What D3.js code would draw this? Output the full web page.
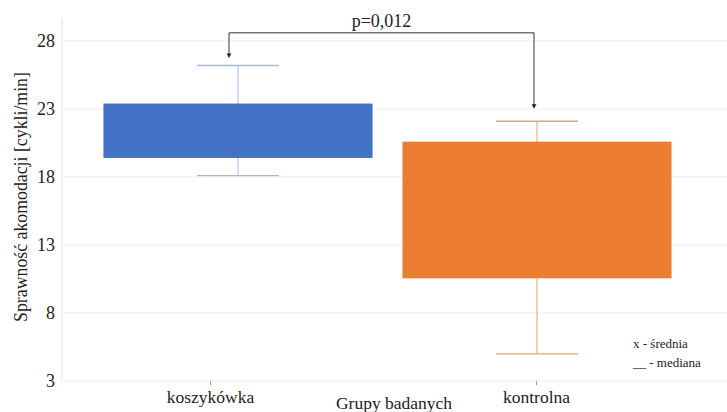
<!DOCTYPE html>
<html lang="pl">
<head>
<meta charset="utf-8">
<title>boxplot</title>
<script src="https://cdn.jsdelivr.net/npm/d3@7"></script>
<style>
  body { margin: 0; background: #fff; }
  svg text { font-family: "Liberation Serif", "Times New Roman", Times, "DejaVu Serif", serif !important; }
</style>
</head>
<body>
<script>
// data
var groups = ["koszykówka", "kontrolna"];
var whiskerMax = [26.2, 22.1];
var q3 = [23.4, 20.6];
var q1 = [19.4, 10.55];
var whiskerMin = [18.1, 5.0];
var yTicks = [3, 8, 13, 18, 23, 28];
var pLabel = "p=0,012";

var boxColors = ["#4472c4", "#ed7d31"];
var whiskerColors = ["#a9b6e0", "#f0a060"];

var w = 727, h = 412;

var svg = d3.select("body").append("svg")
  .attr("width", w).attr("height", h);

var yScale = d3.scaleLinear().domain([3, 28]).range([381, 41]);

var xScale = d3.scaleBand().domain(groups)
  .range([88.5, 686.5]).paddingInner(0.1).paddingOuter(0.05);

// category axis labels sit a little apart from the boxes
var xLab = d3.scalePoint().domain(groups).range([210, 536]);

// gridlines
svg.append("g").selectAll("line")
  .data(yTicks).enter().append("line")
  .attr("x1", 62).attr("x2", w)
  .attr("y1", function(d) { return yScale(d); })
  .attr("y2", function(d) { return yScale(d); })
  .attr("stroke", "#ececec").attr("stroke-width", 1);

svg.append("line")
  .attr("x1", 62).attr("x2", 62).attr("y1", 18).attr("y2", 381)
  .attr("stroke", "#e6e6e6");

// y axis
var yAxis = d3.axisLeft(yScale).tickValues(yTicks).tickSize(0).tickPadding(7);
var gy = svg.append("g").attr("transform", "translate(62,0)").call(yAxis);
gy.select(".domain").remove();
gy.selectAll("text").style("font-size", "18px").attr("fill", "#222");

// x axis
var xAxis = d3.axisBottom(xLab).tickSize(4).tickPadding(6);
var gx = svg.append("g").attr("transform", "translate(0,381)").call(xAxis);
gx.select(".domain").remove();
gx.selectAll("line").attr("stroke", "#999");
gx.selectAll("text").style("font-size", "17.5px").attr("fill", "#222");

// boxes
var boxes = svg.append("g").selectAll("g")
  .data(groups).enter().append("g");

boxes.append("line")
  .attr("x1", function(d) { return xScale(d) + xScale.bandwidth() / 2; })
  .attr("x2", function(d) { return xScale(d) + xScale.bandwidth() / 2; })
  .attr("y1", function(d, i) { return yScale(whiskerMax[i]); })
  .attr("y2", function(d, i) { return yScale(whiskerMin[i]); })
  .attr("stroke", function(d, i) { return whiskerColors[i]; })
  .attr("stroke-width", 1);

[whiskerMax, whiskerMin].forEach(function(arr) {
  boxes.append("line")
    .attr("x1", function(d) { return xScale(d) + xScale.bandwidth() / 2 - 41; })
    .attr("x2", function(d) { return xScale(d) + xScale.bandwidth() / 2 + 41; })
    .attr("y1", function(d, i) { return yScale(arr[i]); })
    .attr("y2", function(d, i) { return yScale(arr[i]); })
    .attr("stroke", function(d, i) { return whiskerColors[i]; })
    .attr("stroke-width", 1.3);
});

boxes.append("rect")
  .attr("x", function(d) { return xScale(d); })
  .attr("width", xScale.bandwidth())
  .attr("y", function(d, i) { return yScale(q3[i]); })
  .attr("height", function(d, i) { return yScale(q1[i]) - yScale(q3[i]); })
  .attr("fill", function(d, i) { return boxColors[i]; });

// significance bracket
var bx1 = xScale(groups[0]) + xScale.bandwidth() / 2 - 9;
var bx2 = xScale(groups[1]) + xScale.bandwidth() / 2 - 3;
var by = yScale(28.6);
var tip1 = yScale(whiskerMax[0]) - 8;
var tip2 = yScale(whiskerMax[1]) - 13;

svg.append("path")
  .attr("d", "M" + bx1 + "," + tip1 + "V" + by + "H" + bx2 + "V" + tip2)
  .attr("fill", "none").attr("stroke", "#333").attr("stroke-width", 1);

svg.selectAll(".tip").data([[bx1, tip1], [bx2, tip2]]).enter()
  .append("path").attr("class", "tip")
  .attr("d", function(d) {
    return "M" + (d[0] - 2.5) + "," + (d[1] - 4) + "L" + (d[0] + 2.5) + "," + (d[1] - 4) + "L" + d[0] + "," + d[1] + "Z";
  })
  .attr("fill", "#222");

svg.append("text")
  .attr("x", (bx1 + bx2) / 2 + 0).attr("y", by - 6)
  .attr("text-anchor", "middle")
  .style("font-size", "18px").attr("fill", "#222")
  .text(pLabel);

// axis titles
svg.append("text")
  .attr("transform", "translate(27,197) rotate(-90)")
  .attr("text-anchor", "middle")
  .style("font-size", "17.8px").attr("fill", "#222")
  .text("Sprawność akomodacji [cykli/min]");

svg.append("text")
  .attr("x", 394).attr("y", 409)
  .attr("text-anchor", "middle")
  .style("font-size", "17.5px").attr("fill", "#222")
  .text("Grupy badanych");

// legend notes
svg.append("text").attr("x", 633).attr("y", 348)
  .style("font-size", "13px").attr("fill", "#222").text("x - średnia");
svg.append("text").attr("x", 633).attr("y", 367)
  .style("font-size", "13px").attr("fill", "#222").text("__ - mediana");
</script>
</body>
</html>
